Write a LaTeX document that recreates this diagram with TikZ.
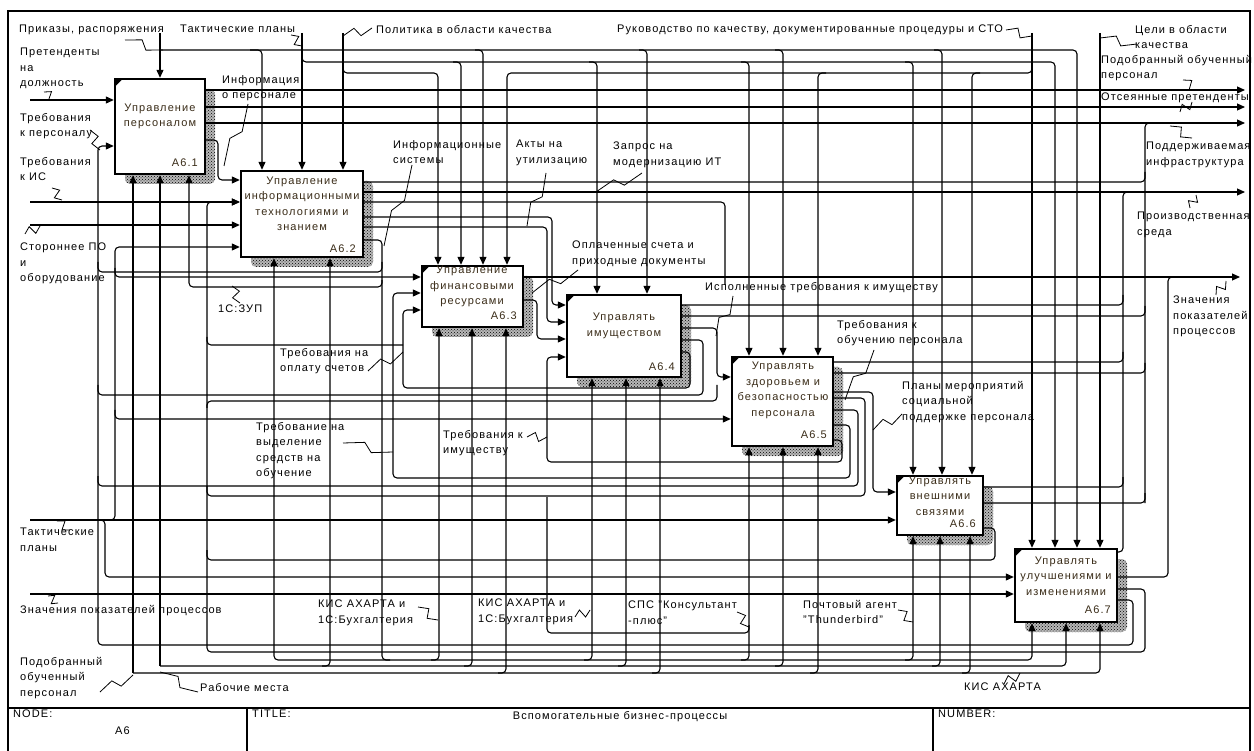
\documentclass[tikz,border=0pt]{standalone}
\usepackage{fontspec}
\setmainfont{Liberation Sans}[LetterSpace=10]
\usetikzlibrary{arrows.meta,calc,patterns}
\definecolor{boxtxt}{RGB}{58,44,24}
\newcommand\sq[2]{\draw[sqs] #1 -- ($#1!0.42!#2!4.5pt!90:#2$) -- ($#1!0.58!#2!4.5pt!-90:#2$) -- #2;}
\newcommand\shd[4]{\fill[shadowfill] ({#1+10},{#2+10}) rectangle ({#3+10},{#4+10});}
\begin{document}
\begin{tikzpicture}[x=1pt,y=-1pt,font=\fontsize{11}{15.5}\selectfont,
  ln/.style={line width=1.1pt,rounded corners=4pt},
  arr/.style={ln,-{Triangle[length=8pt,width=7pt]}},
  sqs/.style={line width=0.8pt},
  bx/.style={draw,line width=2.4pt,fill=white,inner sep=0},
  shadowfill/.style={preaction={fill=black!28},pattern=crosshatch dots,pattern color=black,rounded corners=5pt},
  lbl/.style={anchor=north west,inner sep=0,align=left},
  btxt/.style={align=center,inner sep=0,text=boxtxt},
  num/.style={anchor=east,inner sep=0,text=boxtxt},
  corner/.style={fill=black}]
\useasboundingbox (0,0) rectangle (1254,751);
% frame
\draw[line width=1.5pt] (8,760) -- (8,11) -- (1250,11) -- (1250,760);
\draw[line width=1.5pt] (8,708) -- (1250,708);
\draw[line width=1.5pt] (247,708) -- (247,760);
\draw[line width=1.5pt] (933,708) -- (933,760);
\node[lbl] (tnode) at (13,710) {NODE:};
\node[lbl] (tnum) at (115,727) {A6};
\node[lbl] (ttitle) at (252,710) {TITLE:};
\node[anchor=north,inner sep=0] (tname) at (620,711) {Вспомогательные бизнес-процессы};
\node[lbl] (tnumber) at (938,710) {NUMBER:};
% shadows
\shd{115}{79}{205}{174}
\shd{241}{171}{363}{257}
\shd{422}{266}{523}{327}
\shd{567}{295}{681}{377}
\shd{732}{357}{833}{446}
\shd{897}{476}{983}{535}
\shd{1015}{549}{1117}{622}
% boxes
\node[bx,minimum width=90pt,minimum height=95pt] (b1) at (160,126.5) {};
\node[bx,minimum width=122pt,minimum height=86pt] (b2) at (302,214) {};
\node[bx,minimum width=101pt,minimum height=61pt] (b3) at (472.5,296.5) {};
\node[bx,minimum width=114pt,minimum height=82pt] (b4) at (624,336) {};
\node[bx,minimum width=101pt,minimum height=89pt] (b5) at (782.5,401.5) {};
\node[bx,minimum width=86pt,minimum height=59pt] (b6) at (940,505.5) {};
\node[bx,minimum width=102pt,minimum height=73pt] (b7) at (1066,585.5) {};
\foreach \b in {b1,b3,b4,b5,b6,b7}{
  \fill[corner] ([shift={(1,1)}]\b.north west) -- ++(8,0) -- ++(-8,8) -- cycle;}
\node[btxt] (t1) at (160,116.5) {Управление\\персоналом};
\node[btxt] (t2) at (302,204) {Управление\\информационными\\технологиями и\\знанием};
\node[btxt] (t3) at (472,286.5) {Управление\\финансовыми\\ресурсами};
\node[btxt] (t4) at (624,326) {Управлять\\имуществом};
\node[btxt] (t5) at (783,390.5) {Управлять\\здоровьем и\\безопасностью\\персонала};
\node[btxt] (t6) at (940,496) {Управлять\\внешними\\связями};
\node[btxt] (t7) at (1066,576) {Управлять\\улучшениями и\\изменениями};
\node[num] (n1) at (198,163) {A6.1};
\node[num] (n2) at (356,249) {A6.2};
\node[num] (n3) at (517,316) {A6.3};
\node[num] (n4) at (675,367) {A6.4};
\node[num] (n5) at (827,435) {A6.5};
\node[num] (n6) at (976,524) {A6.6};
\node[num] (n7) at (1111,610) {A6.7};
% ---- controls from top
\draw[arr] (160,33) -- (b1.north -| 160,0);
\draw[arr] (160,50) -| (b2.north -| 262,0);
\draw[arr] (250,50) -| (b7.north -| 1077,0);
\draw[arr] (475,50) -| (b3.north -| 483,0);
\draw[arr] (639,50) -| (b4.north -| 647,0);
\draw[arr] (775,50) -| (b5.north -| 783,0);
\draw[arr] (934,50) -| (b6.north -| 942,0);
\draw[arr] (302,33) -- (b2.north -| 302,0);
\draw[arr] (302,52) |- (1055,62) -- (b7.north -| 1055,0);
\draw[arr] (453,62) -| (b3.north -| 461,0);
\draw[arr] (589,62) -| (b4.north -| 597,0);
\draw[arr] (741,62) -| (b5.north -| 749,0);
\draw[arr] (905,62) -| (b6.north -| 913,0);
\draw[arr] (343,33) -- (b2.north -| 343,0);
\draw[arr] (343,64) |- (438,73) -- (b3.north -| 438,0);
\draw[arr] (1032,33) -- (b7.north -| 1032,0);
\draw[arr] (1032,64) |- (507,73) -- (b3.north -| 507,0);
\draw[arr] (826,73) -| (b5.north -| 818,0);
\draw[arr] (980,73) -| (b6.north -| 972,0);
\draw[arr] (1100,33) -- (b7.north -| 1100,0);
% ---- boundary inputs
\draw[arr] (30,100) -- (b1.west |- 0,100);
\draw[arr] (30,202) -- (b2.west |- 0,202);
\draw[arr] (30,225) -- (b2.west |- 0,225);
\draw[arr] (30,520) -- (b6.west |- 0,520);
\draw[arr] (30,594) -- (b7.west |- 0,594);
% ---- outputs to the right boundary
\draw[arr] (b1.east |- 0,90) -- (1245,90);
\draw[arr] (b1.east |- 0,107) -- (1245,107);
\draw[arr] (b1.east |- 0,123) -- (1245,123);
\draw[arr] (b2.east |- 0,192) -- (1245,192);
\draw[arr] (b3.east |- 0,277) -- (1240,277);
\draw[arr] (b1.east |- 0,140) -| (218,180) -- (b2.west |- 0,180);
\draw[ln] (b2.east |- 0,182) -| (1145,172);
\draw[ln] (b2.east |- 0,202) -| (725,285);
\draw[arr] (b2.east |- 0,217) -| (552,305) -- (b4.west |- 0,305);
\draw[arr] (b2.east |- 0,227) -| (547,322) -- (b4.west |- 0,322);
% trunks on the right
\draw[ln] (1145,503) |- (1165,123);
\draw[ln] (b7.east |- 0,552) -| (1123,192) -- (1140,192);
\draw[ln] (b7.east |- 0,577) -| (1168,277) -- (1185,277);
\draw[ln] (b4.east |- 0,305) -| (1123,295);
\draw[ln] (b4.east |- 0,316) -| (1145,306);
\draw[ln] (b5.east |- 0,362) -| (1123,352);
\draw[ln] (b5.east |- 0,373) -| (1145,363);
\draw[ln] (b6.east |- 0,487) -| (1123,477);
\draw[ln] (b6.east |- 0,503) -| (1145,493);
% feedback trunks on the left
\draw[arr] (b7.east |- 0,600) -| (1133,645) -| (98,146) -- (b1.west |- 0,146);
\draw[arr] (b7.east |- 0,589) -| (1145,652) -| (207,202) -- (b2.west |- 0,202);
\draw[arr] (108,520) -| (115,247) -- (b2.west |- 0,247);
\draw[arr] (115,268) |- (b3.west |- 0,277);
\draw[arr] (115,410) |- (b5.west |- 0,419);
\draw[arr] (95,520) -| (105,577) -- (b7.west |- 0,577);
% loops between boxes
\draw[arr] (b3.east |- 0,300) -| (537,339) -- (b4.west |- 0,339);
\draw[arr] (b4.east |- 0,328) -| (717,377) -- (b5.west |- 0,377);
\draw[ln] (b4.east |- 0,340) -| (703,395) -| (98,385);
\draw[arr] (b4.east |- 0,352) -| (690,388) -| (403,310) -- (b3.west |- 0,310);
\draw[ln] (403,345) -| (207,337);
\draw[ln] (207,408) |- (717,401) -- (717,385);
\draw[arr] (b5.east |- 0,440) -| (842,462) -| (547,357) -- (b4.west |- 0,357);
\draw[arr] (b5.east |- 0,392) -| (873,492) -- (b6.west |- 0,492);
\draw[ln] (b5.east |- 0,398) -| (865,496) -| (207,486);
\draw[ln] (b5.east |- 0,410) -| (858,486) -| (98,476);
\draw[arr] (b5.east |- 0,425) -| (850,478) -| (393,293) -- (b3.west |- 0,293);
\draw[ln] (b6.east |- 0,528) -| (995,560) -| (207,550);
\draw[ln] (547,497) |- (749,633) -- (749,625);
% ---- mechanisms
\draw[arr] (b2.east |- 0,240) -| (382,660) -| (b7.south -| 1032,0);
\draw[arr] (382,280) |- (189,287) -- (b1.south -| 189,0);
\draw[ln] (382,262) |- (98,272) -- (98,262);
\draw[arr] (390,660) -| (b2.south -| 274,0);
\draw[arr] (431,660) -| (b3.south -| 439,0);
\draw[arr] (584,660) -| (b4.south -| 592,0);
\draw[arr] (741,660) -| (b5.south -| 749,0);
\draw[arr] (905,660) -| (b6.south -| 913,0);
\draw[arr] (160,666) -- (b1.south -| 160,0);
\draw[arr] (160,666) -| (b7.south -| 1066,0);
\draw[arr] (322,666) -| (b2.south -| 330,0);
\draw[arr] (464,666) -| (b3.south -| 472,0);
\draw[arr] (618,666) -| (b4.south -| 626,0);
\draw[arr] (775,666) -| (b5.south -| 783,0);
\draw[arr] (932,666) -| (b6.south -| 940,0);
\draw[arr] (133,673) -- (b1.south -| 133,0);
\draw[arr] (133,673) -| (b7.south -| 1100,0);
\draw[arr] (498,673) -| (b3.south -| 506,0);
\draw[arr] (652,673) -| (b4.south -| 660,0);
\draw[arr] (810,673) -| (b5.south -| 818,0);
\draw[arr] (962,673) -| (b6.south -| 970,0);
% ---- labels
\node[lbl] (L1) at (19,25) {Приказы, распоряжения};
\node[lbl] (L2) at (180,25) {Тактические планы};
\node[lbl] (L3) at (376,25) {Политика в области качества};
\node[lbl] (L4) at (617,25) {Руководство по качеству, документированные процедуры и СТО};
\node[lbl] (L5) at (1135,25) {Цели в области\\качества};
\node[lbl] (L6) at (1101,55) {Подобранный обученный\\персонал};
\node[lbl] (L7) at (1101,93) {Отсеянные претенденты};
\node[lbl] (L8) at (1146,142) {Поддерживаемая\\инфраструктура};
\node[lbl] (L9) at (1137,212) {Производственная\\среда};
\node[lbl] (L10) at (1173,296) {Значения\\показателей\\процессов};
\node[lbl] (L11) at (20,48) {Претенденты\\на\\должность};
\node[lbl] (L12) at (20,113) {Требования\\к персоналу};
\node[lbl] (L13) at (20,157) {Требования\\к ИС};
\node[lbl] (L14) at (20,243) {Стороннее ПО\\и\\оборудование};
\node[lbl] (L15) at (222,75) {Информация\\о персонале};
\node[lbl] (L16) at (393,140) {Информационные\\системы};
\node[lbl] (L17) at (516,140) {Акты на\\утилизацию};
\node[lbl] (L18) at (613,142) {Запрос на\\модернизацию ИТ};
\node[lbl] (L19) at (572,241) {Оплаченные счета и\\приходные документы};
\node[lbl] (L20) at (705,282) {Исполненные требования к имуществу};
\node[lbl] (L21) at (837,320) {Требования к\\обучению персонала};
\node[lbl] (L22) at (902,381) {Планы мероприятий\\социальной\\поддержке персонала};
\node[lbl] (L23) at (218,305) {1С:ЗУП};
\node[lbl] (L24) at (280,348) {Требования на\\оплату счетов};
\node[lbl] (L25) at (256,422) {Требование на\\выделение\\средств на\\обучение};
\node[lbl] (L26) at (443,430) {Требования к\\имуществу};
\node[lbl] (L27) at (20,528) {Тактические\\планы};
\node[lbl] (L28) at (20,605) {Значения показателей процессов};
\node[lbl] (L29) at (20,657) {Подобранный\\обученный\\персонал};
\node[lbl] (L30) at (200,683) {Рабочие места};
\node[lbl] (L31) at (318,600) {КИС АХАРТА и\\1С:Бухгалтерия};
\node[lbl] (L32) at (478,599) {КИС АХАРТА и\\1С:Бухгалтерия};
\node[lbl] (L33) at (628,601) {СПС "Консультант\\-плюс"};
\node[lbl] (L34) at (803,600) {Почтовый агент\\"Thunderbird"};
\node[lbl] (L35) at (964,683) {КИС АХАРТА};
% ---- squiggles
\sq{(125,40)}{(163,50)}
\sq{(291,35)}{(302,46)}
\sq{(372,28)}{(343,36)}
\sq{(1006,30)}{(1032,36)}
\sq{(1137,44)}{(1100,38)}
\sq{(1183,80)}{(1198,90)}
\sq{(1192,102)}{(1180,112)}
\sq{(1170,126)}{(1192,138)}
\sq{(1196,195)}{(1190,208)}
\sq{(1226,281)}{(1216,295)}
\sq{(44,92)}{(56,100)}
\sq{(90,130)}{(100,150)}
\sq{(52,188)}{(62,200)}
\sq{(25,234)}{(40,226)}
\sq{(248,104)}{(224,166)}
\sq{(412,165)}{(384,246)}
\sq{(546,173)}{(527,226)}
\sq{(642,173)}{(596,192)}
\sq{(578,270)}{(532,293)}
\sq{(733,296)}{(716,336)}
\sq{(240,303)}{(232,286)}
\sq{(368,371)}{(403,352)}
\sq{(343,443)}{(393,452)}
\sq{(527,437)}{(547,437)}
\sq{(874,350)}{(845,400)}
\sq{(902,414)}{(873,430)}
\sq{(57,521)}{(70,530)}
\sq{(48,596)}{(58,603)}
\sq{(100,692)}{(133,675)}
\sq{(198,692)}{(160,672)}
\sq{(418,607)}{(438,620)}
\sq{(575,617)}{(590,610)}
\sq{(737,612)}{(749,627)}
\sq{(898,610)}{(913,622)}
\sq{(1004,684)}{(1020,673)}
\end{tikzpicture}
\end{document}
